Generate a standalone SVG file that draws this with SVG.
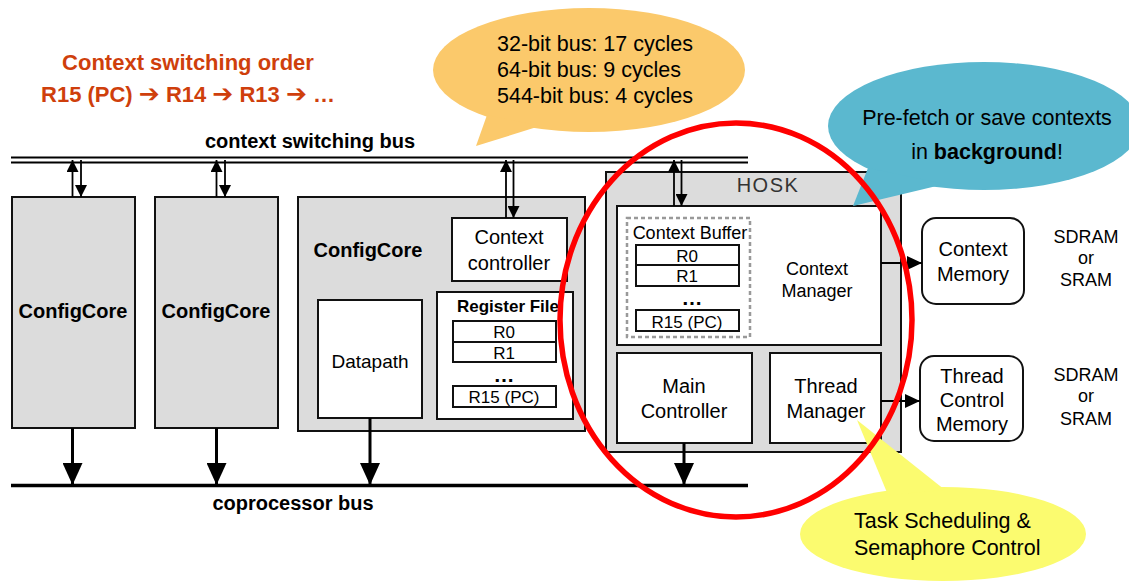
<svg xmlns="http://www.w3.org/2000/svg" width="1129" height="586" viewBox="0 0 1129 586">
  <defs>
    <style>
      text { font-family: "Liberation Sans", Arial, sans-serif; fill: #000; }
      .b { font-weight: bold; }
      .mid { text-anchor: middle; }
      .core { fill: #dcdcdc; stroke: #111; stroke-width: 2; }
      .box { fill: #fff; stroke: #111; stroke-width: 2; }
      .reg { fill: #fff; stroke: #111; stroke-width: 2; }
      .bus { stroke: #000; fill: none; }
      .thin { stroke: #000; stroke-width: 1.8; fill: none; }
      .thick { stroke: #000; stroke-width: 3; fill: none; }
      .note { fill: #cf3f0c; font-weight: bold; font-size: 22px; }
      .arr { font-family: "DejaVu Sans", sans-serif; font-weight: bold; font-size: 25px; fill: #cf3f0c; }
      .callout { font-size: 21.5px; }
    </style>
    <marker id="sm" viewBox="0 0 12 12" refX="12" refY="6" markerWidth="12" markerHeight="12" markerUnits="userSpaceOnUse" orient="auto">
      <path d="M0,0 L12,6 L0,12 z" fill="#000"/>
    </marker>
    <marker id="lg" viewBox="0 0 22 20" refX="22" refY="10" markerWidth="22" markerHeight="20" markerUnits="userSpaceOnUse" orient="auto">
      <path d="M0,0 L22,10 L0,20 z" fill="#000"/>
    </marker>
    <marker id="md" viewBox="0 0 15 14" refX="15" refY="7" markerWidth="15" markerHeight="14" markerUnits="userSpaceOnUse" orient="auto">
      <path d="M0,0 L15,7 L0,14 z" fill="#000"/>
    </marker>
  </defs>

  <rect width="1129" height="586" fill="#fff"/>

  <!-- switching order note -->
  <text class="note mid" x="188" y="70">Context switching order</text>
  <text class="note mid" x="188" y="102">R15 (PC) <tspan class="arr">➔</tspan> R14 <tspan class="arr">➔</tspan> R13 <tspan class="arr">➔</tspan> …</text>

  <!-- buses -->
  <g id="buses">
    <line class="bus" x1="11" y1="157.5" x2="748" y2="157.5" stroke-width="2"/>
    <line class="bus" x1="11" y1="162.5" x2="748" y2="162.5" stroke-width="1.8"/>
    <text class="b mid" x="310" y="148" font-size="20">context switching bus</text>
    <line class="bus" x1="11" y1="485.5" x2="748" y2="485.5" stroke-width="3.5"/>
    <text class="b mid" x="293" y="510" font-size="20">coprocessor bus</text>
  </g>

  <!-- ConfigCore 1 -->
  <g id="core1">
    <rect class="core" x="12" y="197" width="123" height="231"/>
    <text class="b mid" x="73" y="318" font-size="20">ConfigCore</text>
  </g>

  <!-- ConfigCore 2 -->
  <g id="core2">
    <rect class="core" x="155" y="197" width="123" height="231"/>
    <text class="b mid" x="216" y="318" font-size="20">ConfigCore</text>
  </g>

  <!-- ConfigCore 3 with internals -->
  <g id="core3">
    <rect class="core" x="298" y="197" width="287" height="234"/>
    <text class="b mid" x="368" y="257" font-size="20">ConfigCore</text>
  </g>
  <g id="context-controller">
    <rect class="box" x="452" y="218" width="115" height="63"/>
    <text class="mid" x="509" y="244" font-size="20">Context</text>
    <text class="mid" x="509" y="270" font-size="20">controller</text>
  </g>
  <g id="datapath">
    <rect class="box" x="318" y="300" width="104" height="118"/>
    <text class="mid" x="370" y="368" font-size="19">Datapath</text>
  </g>
  <g id="register-file">
    <rect class="box" x="437" y="292" width="136" height="127"/>
    <text class="b mid" x="508" y="312" font-size="17">Register File</text>
    <rect class="reg" x="453" y="321" width="103" height="21"/>
    <text class="mid" x="504" y="338" font-size="17">R0</text>
    <rect class="reg" x="453" y="342" width="103" height="20"/>
    <text class="mid" x="504" y="359" font-size="17">R1</text>
    <text class="b mid" x="504" y="382" font-size="21">…</text>
    <rect class="reg" x="453" y="386" width="103" height="21"/>
    <text class="mid" x="504" y="403" font-size="17">R15 (PC)</text>
  </g>

  <!-- HOSK -->
  <g id="hosk">
    <rect class="core" x="606" y="172" width="295" height="280"/>
    <text class="mid" x="768" y="192" font-size="20" letter-spacing="1.5" style="fill:#333">HOSK</text>
  </g>
  <g id="context-manager">
    <rect class="box" x="617" y="206" width="264" height="139"/>
    <rect x="627" y="218" width="123" height="119" fill="none" stroke="#999" stroke-width="2.5" stroke-dasharray="4,3"/>
    <text class="mid" x="690" y="239" font-size="18">Context Buffer</text>
    <rect class="reg" x="636" y="245" width="103" height="20"/>
    <text class="mid" x="687" y="262" font-size="17">R0</text>
    <rect class="reg" x="636" y="265" width="103" height="21"/>
    <text class="mid" x="687" y="282" font-size="17">R1</text>
    <text class="b mid" x="692" y="305" font-size="21">…</text>
    <rect class="reg" x="636" y="310" width="103" height="21"/>
    <text class="mid" x="687" y="328" font-size="17">R15 (PC)</text>
    <text class="mid" x="817" y="275" font-size="18">Context</text>
    <text class="mid" x="817" y="297" font-size="18">Manager</text>
  </g>
  <g id="main-controller">
    <rect class="box" x="617" y="353" width="135" height="90"/>
    <text class="mid" x="684" y="393" font-size="20">Main</text>
    <text class="mid" x="684" y="418" font-size="20">Controller</text>
  </g>
  <g id="thread-manager">
    <rect class="box" x="770" y="353" width="111" height="90"/>
    <text class="mid" x="826" y="393" font-size="20">Thread</text>
    <text class="mid" x="826" y="418" font-size="20">Manager</text>
  </g>

  <!-- external memories -->
  <g id="context-memory">
    <rect class="box" x="922" y="218" width="102" height="86" rx="14"/>
    <text class="mid" x="973" y="256" font-size="20">Context</text>
    <text class="mid" x="973" y="281" font-size="20">Memory</text>
  </g>
  <g id="thread-control-memory">
    <rect class="box" x="920" y="356" width="103" height="85" rx="14"/>
    <text class="mid" x="972" y="383" font-size="20">Thread</text>
    <text class="mid" x="972" y="407" font-size="20">Control</text>
    <text class="mid" x="972" y="431" font-size="20">Memory</text>
  </g>
  <g id="mem-types">
    <text class="mid" x="1086" y="243" font-size="18">SDRAM</text>
    <text class="mid" x="1086" y="264" font-size="18">or</text>
    <text class="mid" x="1086" y="286" font-size="18">SRAM</text>
    <text class="mid" x="1086" y="381" font-size="18">SDRAM</text>
    <text class="mid" x="1086" y="402" font-size="18">or</text>
    <text class="mid" x="1086" y="425" font-size="18">SRAM</text>
  </g>

  <!-- connectors -->
  <g id="connectors">
    <line class="thin" x1="72.5" y1="197" x2="72.5" y2="160" marker-end="url(#sm)"/>
    <line class="thin" x1="81" y1="160" x2="81" y2="197" marker-end="url(#sm)"/>
    <line class="thin" x1="216.5" y1="197" x2="216.5" y2="160" marker-end="url(#sm)"/>
    <line class="thin" x1="225" y1="160" x2="225" y2="197" marker-end="url(#sm)"/>
    <line class="thin" x1="506" y1="218" x2="506" y2="160" marker-end="url(#sm)"/>
    <line class="thin" x1="513.5" y1="160" x2="513.5" y2="218" marker-end="url(#sm)"/>
    <line class="thin" x1="674" y1="206" x2="674" y2="160" marker-end="url(#sm)"/>
    <line class="thin" x1="681.5" y1="160" x2="681.5" y2="206" marker-end="url(#sm)"/>

    <line class="thick" x1="72.5" y1="428" x2="72.5" y2="485" marker-end="url(#lg)"/>
    <line class="thick" x1="216.5" y1="428" x2="216.5" y2="485" marker-end="url(#lg)"/>
    <line class="thick" x1="370" y1="418" x2="370" y2="485" marker-end="url(#lg)"/>
    <line class="thick" x1="684" y1="443" x2="684" y2="485" marker-end="url(#lg)"/>

    <line class="thin" x1="881" y1="263" x2="922" y2="263" marker-end="url(#md)"/>
    <line class="thin" x1="881" y1="401" x2="920" y2="401" marker-end="url(#md)"/>
  </g>

  <!-- callouts -->
  <g id="bus-cycles">
    <ellipse cx="589" cy="70" rx="156" ry="62" fill="#fbc96b"/>
    <polygon points="487,115 540,126 476,146" fill="#fbc96b"/>
    <text class="callout" x="497" y="51">32-bit bus: 17 cycles</text>
    <text class="callout" x="497" y="77">64-bit bus: 9 cycles</text>
    <text class="callout" x="497" y="103">544-bit bus: 4 cycles</text>
  </g>
  <g id="prefetch-note">
    <ellipse cx="984" cy="126" rx="156" ry="64" fill="#5bb8cf"/>
    <polygon points="868,168 945,184 853,206" fill="#5bb8cf"/>
    <text class="callout mid" x="987" y="125">Pre-fetch or save contexts</text>
    <text class="callout mid" x="987" y="159">in <tspan font-weight="bold">background</tspan>!</text>
  </g>
  <g id="scheduling-note">
    <ellipse cx="943" cy="534" rx="143" ry="47" fill="#fbfb6f"/>
    <polygon points="857,420 888,495 945,490" fill="#fbfb6f"/>
    <text class="callout" x="854" y="528">Task Scheduling &amp;</text>
    <text class="callout" x="854" y="555">Semaphore Control</text>
  </g>

  <!-- highlight ring round HOSK -->
  <ellipse id="hosk-highlight" cx="736" cy="320" rx="176" ry="197" fill="none" stroke="#ff0000" stroke-width="5.5"/>
</svg>
